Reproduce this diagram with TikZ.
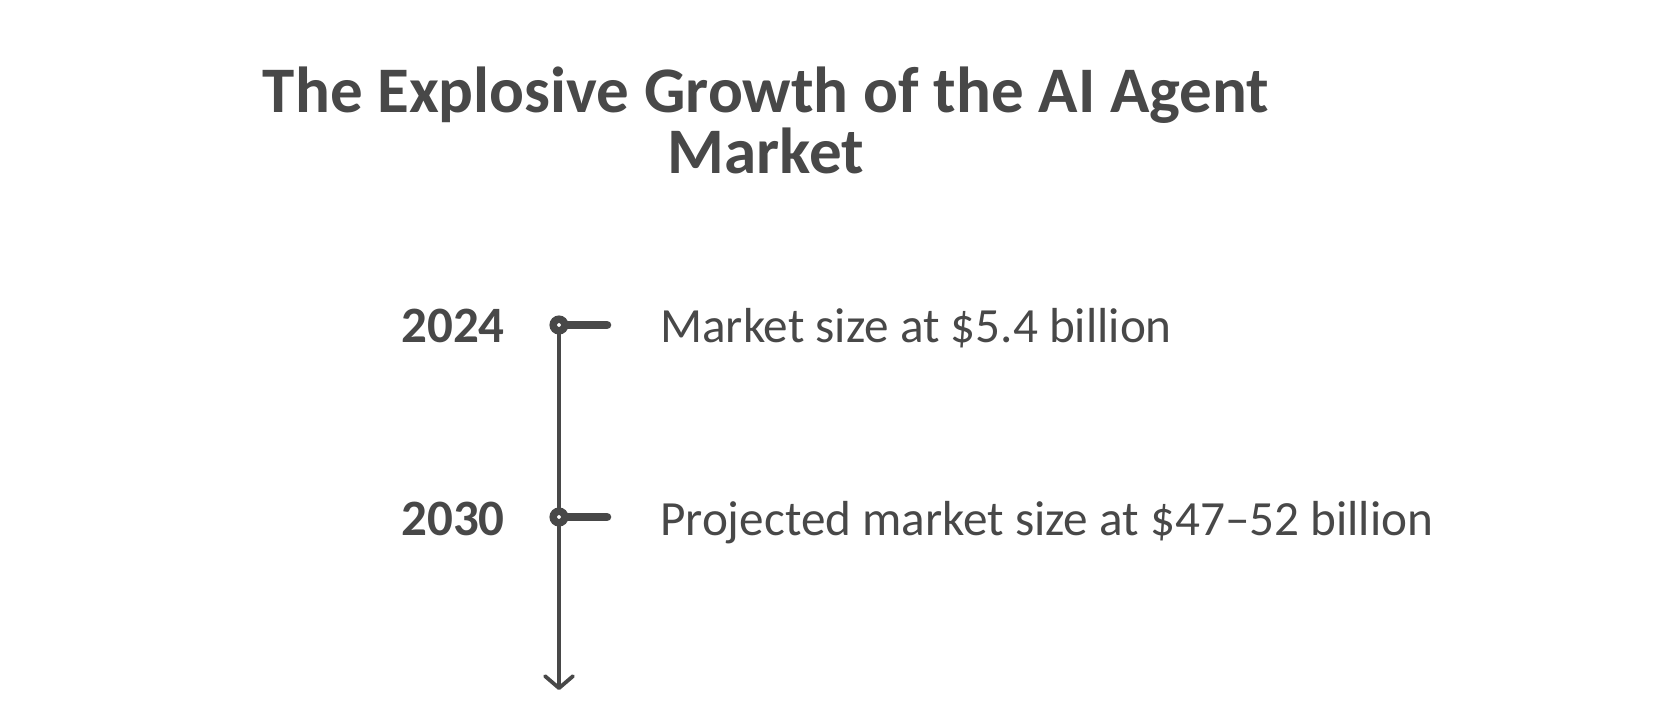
\documentclass[tikz,border=0pt]{standalone}
\usepackage{fontspec}
\setmainfont{Carlito}
\usetikzlibrary{arrows.meta}
\definecolor{ink}{RGB}{72,72,72}
\begin{document}
\begin{tikzpicture}[x=1pt,y=-1pt,
  titletext/.style={font=\bfseries\fontsize{65}{72}\selectfont, text=ink, inner sep=0pt},
  yeartext/.style={font=\bfseries\fontsize{51}{60}\selectfont, text=ink, inner sep=0pt, anchor=base east},
  desctext/.style={font=\fontsize{49.2}{58}\selectfont, text=ink, inner sep=0pt, anchor=base west},
  dot/.style={circle, draw=ink, fill=white, line width=7.5pt, minimum size=11.5pt, inner sep=0pt},
  tick/.style={draw=ink, line width=8.5pt, line cap=round},
  axis/.style={draw=ink, line width=3.8pt, -{Straight Barb[length=12pt,width=28pt,line width=3.8pt,round]}}]
\useasboundingbox[fill=white] (0,0) rectangle (1678,720);
\node[titletext, anchor=base] (t1) at (766,112) {The Explosive Growth of the AI Agent};
\node[titletext, anchor=base] (t2) at (766,173) {Market};
\coordinate (p1) at (559,325);
\coordinate (p2) at (559,517);
\coordinate (k1) at (607,325);
\coordinate (k2) at (607,517);
\coordinate (tip) at (559,690);
\draw[axis] (p1) -- (tip);
\node[dot] (c1) at (p1) {};
\node[dot] (c2) at (p2) {};
\draw[tick] (c1.east) -- (k1);
\draw[tick] (c2.east) -- (k2);
\node[yeartext] (y1) at (505,342) {2024};
\node[yeartext] (y2) at (505,535) {2030};
\node[desctext] (d1) at (660,342) {Market size at \$5.4 billion};
\node[desctext] (d2) at (660,535) {Projected market size at \$47–52 billion};
\end{tikzpicture}
\end{document}
